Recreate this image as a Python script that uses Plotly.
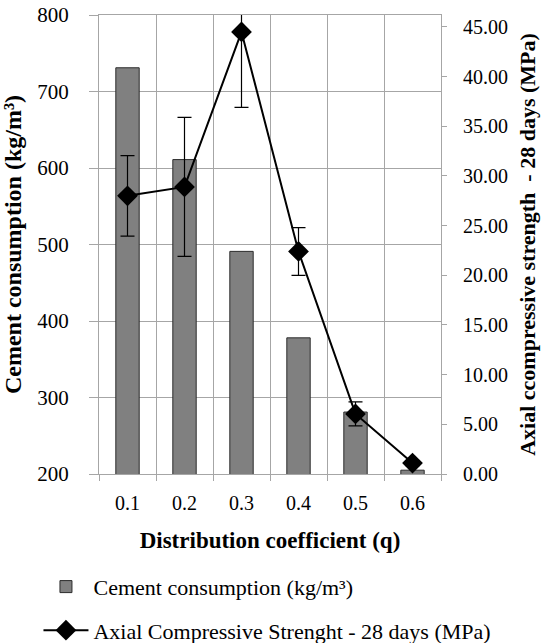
import plotly.graph_objects as go

categories = ["0.1", "0.2", "0.3", "0.4", "0.5", "0.6"]
cement = [731, 611, 491, 378, 281, 205]
strength = [28.0, 28.9, 44.5, 22.4, 6.05, 1.1]
strength_err = [4.05, 7.0, 7.6, 2.4, 1.2, 0.25]

xpos = list(range(1, len(categories) + 1))
FONT = "Liberation Serif"
GRID = "#a6a6a6"

fig = go.Figure()
fig.add_trace(go.Bar(
    x=xpos, y=cement, name="Cement consumption (kg/m³)", legendgroup="a",
    width=0.41, marker=dict(color="#808080", line=dict(color="#2b2b2b", width=1)),
))
fig.add_trace(go.Scatter(
    x=xpos, y=strength, yaxis="y2", mode="lines+markers", legendgroup="b",
    name="Axial Compressive Strenght - 28 days (MPa)",
    line=dict(color="black", width=2),
    marker=dict(symbol="diamond", size=16, color="black"),
    error_y=dict(type="data", array=strength_err, color="black", thickness=1.2, width=7),
    cliponaxis=True,
))

fig.update_layout(
    width=555, height=643,
    margin=dict(l=99, r=114, t=15, b=169, autoexpand=False),
    paper_bgcolor="white", plot_bgcolor="white",
    font=dict(family=FONT, color="black", size=18),
    showlegend=True,
    legend=dict(orientation="v", x=-0.177, xanchor="left", y=-0.2, yanchor="top",
                font=dict(size=22, family=FONT), tracegroupgap=12, itemwidth=45),
    xaxis=dict(
        range=[0.5, 6.5], tickmode="array", tickvals=xpos, ticktext=categories,
        showgrid=False, showline=True, linecolor=GRID, mirror=True,
        ticks="", tickfont=dict(size=20), ticklabelstandoff=11,
        minor=dict(tick0=0.5, dtick=1, showgrid=True, gridcolor=GRID, gridwidth=1,
                   ticks="outside", ticklen=6, tickcolor=GRID),
        title=dict(text="<b>Distribution coefficient (q)</b>", font=dict(size=23), standoff=18),
        zeroline=False,
    ),
    yaxis=dict(
        range=[200, 800], dtick=100, showgrid=True, gridcolor=GRID,
        showline=True, linecolor=GRID, ticks="outside", ticklen=9, tickcolor=GRID,
        tickfont=dict(size=21), ticklabelstandoff=16,
        title=dict(text="<b>Cement consumption (kg/m³)</b>", font=dict(size=24), standoff=10),
        zeroline=False,
    ),
    yaxis2=dict(
        range=[0, 46.2], dtick=5, overlaying="y", side="right", showgrid=False,
        showline=True, linecolor=GRID, ticks="outside", ticklen=5, tickcolor=GRID,
        tickformat=".2f", tickfont=dict(size=20), ticklabelstandoff=12,
        title=dict(text="<b>Axial ccompressive strength  - 28 days (MPa)</b>", font=dict(size=22), standoff=12),
        zeroline=False,
    ),
    bargap=0.59,
)

fig.write_html("out.html", post_script="document.body.style.margin='0';",
               config={"displayModeBar": False})
